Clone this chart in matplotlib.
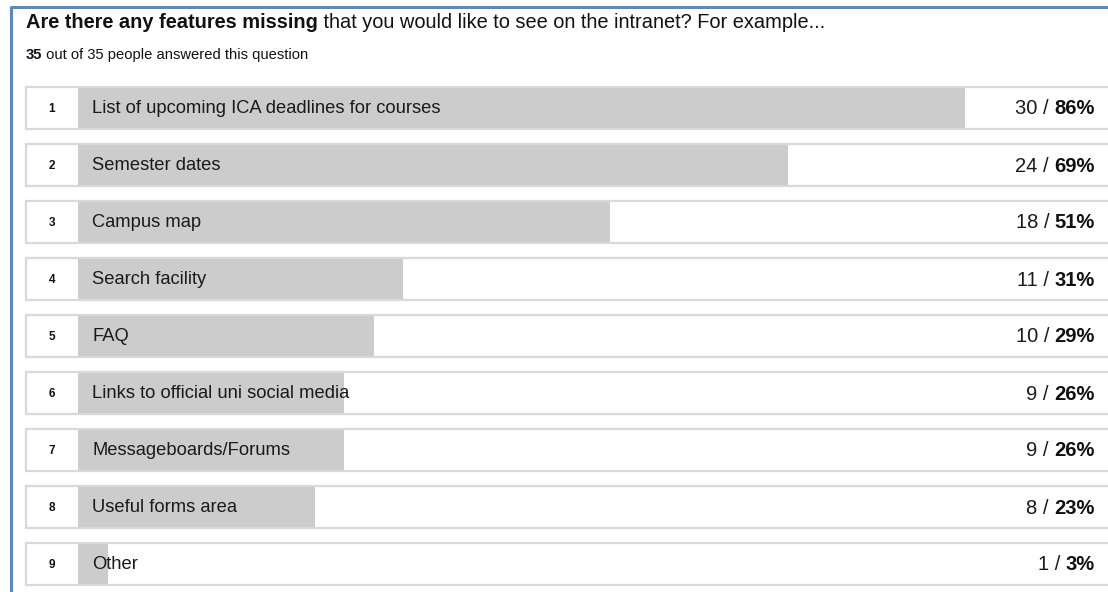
import matplotlib.pyplot as plt
from matplotlib.patches import Rectangle

# Datos de la encuesta
options = ["List of upcoming ICA deadlines for courses", "Semester dates", "Campus map",
           "Search facility", "FAQ", "Links to official uni social media",
           "Messageboards/Forums", "Useful forms area", "Other"]
counts = [30, 24, 18, 11, 10, 9, 9, 8, 1]
percents = [86, 69, 51, 31, 29, 26, 26, 23, 3]
answered = 35
total = 35

plt.rcParams['font.family'] = ['Liberation Sans', 'DejaVu Sans']

W, H = 1108, 592
fig = plt.figure(figsize=(W / 100, H / 100), dpi=100)
ax = fig.add_axes([0, 0, 1, 1])
ax.set_xlim(0, W)
ax.set_ylim(H, 0)
ax.axis('off')

# Marco azul
ax.plot([11, 11, W + 5], [H + 5, 7, 7], color='#5b87c8', lw=2.2, solid_capstyle='butt')

# Titulo
t = ax.text(26, 22, "Are there any features missing", fontsize=14.4, fontweight='bold',
            va='center', ha='left', color='#111111')
ax.annotate(" that you would like to see on the intranet? For example...",
            xycoords=t, xy=(1, 0.5), va='center', ha='left', fontsize=14.4, color='#111111')

s = ax.text(26, 55, str(answered), fontsize=10.6, fontweight='bold', va='center', ha='left',
            color='#111111')
ax.annotate(f" out of {total} people answered this question", xycoords=s, xy=(1, 0.5),
            va='center', ha='left', fontsize=10.6, color='#111111')

# Filas
box_left, bar_left, full_w = 26, 78, 1035
row_top, row_step, row_h = 87, 57, 42
for i, (opt, c, p) in enumerate(zip(options, counts, percents)):
    top = row_top + i * row_step
    yc = top + row_h / 2
    ax.add_patch(Rectangle((box_left, top), W + 10 - box_left, row_h, facecolor='white',
                           edgecolor='#d9d9d9', lw=1.6))
    ax.barh(yc, c / total * full_w, left=bar_left, height=row_h - 1.5, color='#cccccc', zorder=2)
    ax.text(52, yc + 1, str(i + 1), fontsize=8.5, fontweight='bold', ha='center', va='center',
            color='#111111', zorder=3)
    ax.text(92, top + 26, opt, fontsize=13.2, ha='left', va='baseline', color='#1a1a1a',
            zorder=3)
    v = ax.text(1095, yc + 1, f"{p}%", fontsize=14.5, fontweight='bold', ha='right', va='center',
                color='#111111', zorder=3)
    ax.annotate(f"{c} / ", xycoords=v, xy=(0, 0.5), va='center', ha='right', fontsize=14.5,
                color='#1a1a1a', zorder=3)

fig.savefig('out.png', dpi=100)
